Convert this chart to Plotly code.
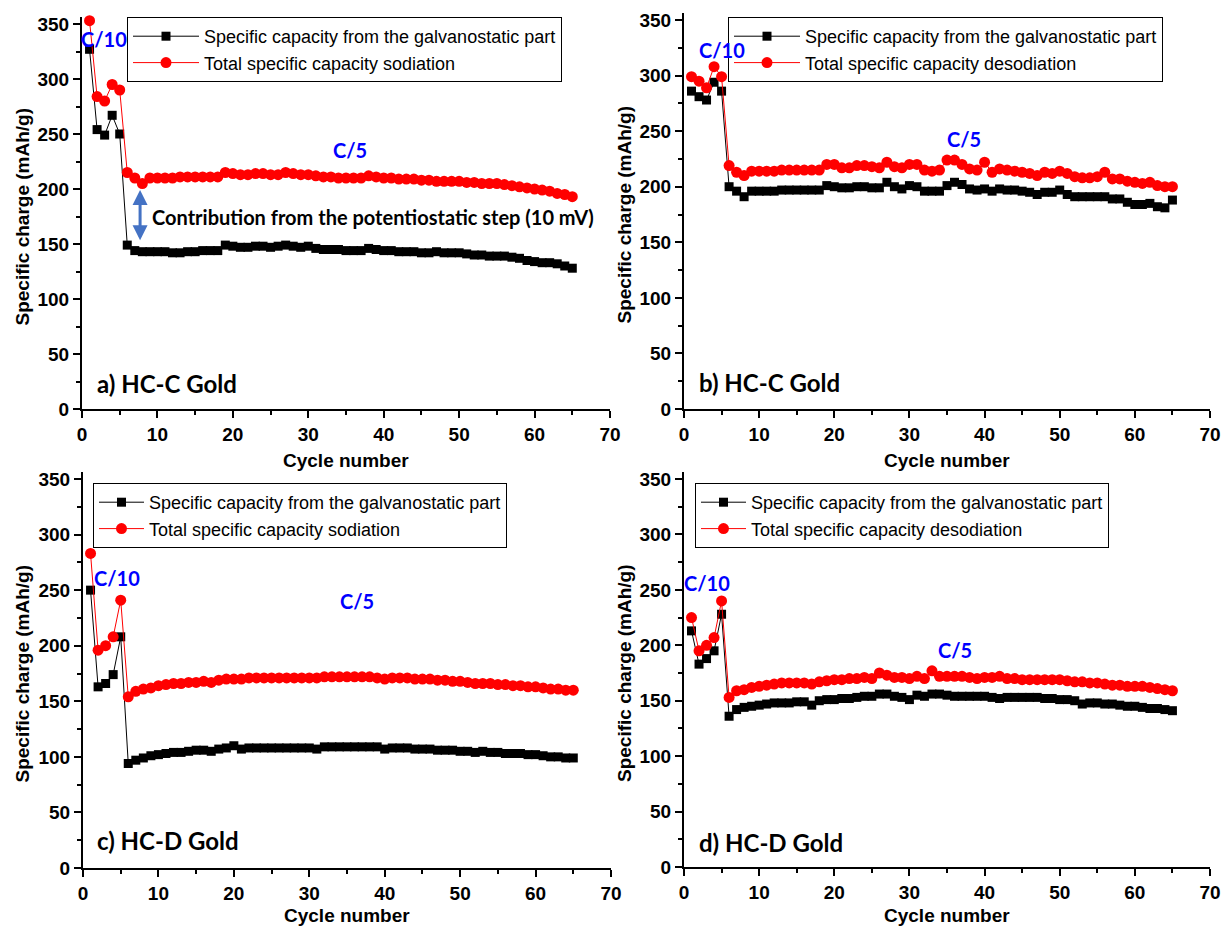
import plotly.graph_objects as go

cycles = list(range(1, 66))

# Panel a: HC-C Gold, sodiation
a_galv = [327, 254, 249, 267, 250, 149, 144, 143, 143, 143, 143, 142, 142, 143, 143, 144, 144, 144, 149, 148,
          147, 147, 148, 148, 147, 148, 149, 148, 147, 148, 146, 145, 145, 145, 144, 144, 144, 146, 145, 144,
          144, 143, 143, 143, 142, 142, 143, 142, 142, 142, 141, 140, 140, 139, 139, 139, 138, 137, 135, 134,
          133, 133, 132, 130, 128]
a_total = [353, 284, 280, 295, 290, 215, 210, 205, 210, 210, 210, 210, 211, 211, 211, 211, 211, 211, 215, 214,
           213, 213, 214, 214, 213, 213, 215, 214, 213, 213, 212, 211, 211, 210, 210, 210, 210, 212, 211, 210,
           210, 209, 209, 209, 208, 208, 207, 207, 207, 207, 206, 206, 205, 205, 205, 204, 203, 202, 201, 200,
           199, 198, 196, 195, 193]

# Panel b: HC-C Gold, desodiation
b_galv = [286, 281, 278, 294, 286, 200, 196, 191, 196, 196, 196, 196, 197, 197, 197, 197, 197, 197, 201, 200,
          199, 199, 200, 200, 199, 199, 204, 200, 198, 201, 200, 196, 196, 196, 201, 204, 202, 198, 197, 198,
          196, 198, 197, 197, 196, 195, 193, 195, 195, 197, 193, 191, 191, 191, 191, 191, 189, 189, 186, 184,
          184, 185, 182, 181, 188]
b_total = [299, 295, 289, 308, 299, 219, 213, 210, 214, 214, 214, 214, 215, 215, 215, 215, 215, 215, 220, 220,
           217, 217, 219, 219, 218, 217, 222, 218, 217, 220, 220, 215, 214, 215, 224, 224, 220, 216, 215, 222,
           213, 216, 215, 214, 213, 212, 210, 213, 212, 214, 212, 209, 208, 208, 209, 213, 207, 207, 205, 204,
           203, 204, 201, 200, 200]

# Panel c: HC-D Gold, sodiation
c_galv = [250, 163, 166, 174, 208, 94, 97, 99, 101, 102, 103, 104, 104, 105, 106, 106, 105, 107, 108, 110,
          107, 108, 108, 108, 108, 108, 108, 108, 108, 108, 107, 109, 109, 109, 109, 109, 109, 109, 109, 107,
          108, 108, 108, 107, 107, 107, 106, 106, 106, 105, 105, 104, 105, 104, 104, 103, 103, 103, 102, 102,
          101, 100, 100, 99, 99]
c_total = [283, 196, 200, 208, 241, 154, 159, 161, 162, 164, 165, 166, 166, 167, 167, 168, 167, 169, 170, 170,
           170, 171, 171, 171, 171, 171, 171, 171, 171, 171, 171, 172, 172, 172, 172, 172, 172, 172, 171, 170,
           171, 171, 171, 170, 170, 170, 169, 169, 168, 168, 167, 166, 166, 166, 165, 165, 164, 164, 163, 163,
           162, 161, 161, 160, 160]

# Panel d: HC-D Gold, desodiation
d_galv = [213, 183, 188, 195, 228, 136, 142, 144, 145, 146, 147, 148, 148, 148, 149, 149, 146, 150, 151, 151,
          152, 152, 153, 154, 154, 156, 156, 154, 153, 151, 155, 154, 156, 156, 155, 154, 154, 154, 154, 154,
          153, 152, 153, 153, 153, 153, 153, 152, 152, 151, 151, 150, 147, 148, 148, 147, 147, 146, 145, 145,
          144, 143, 143, 142, 141]
d_total = [225, 195, 200, 207, 240, 153, 159, 160, 162, 163, 164, 165, 166, 166, 166, 166, 165, 167, 168, 169,
           169, 170, 170, 171, 170, 175, 173, 171, 171, 170, 172, 170, 177, 172, 172, 172, 172, 171, 170, 171,
           171, 172, 170, 170, 169, 169, 169, 169, 169, 169, 168, 167, 167, 166, 166, 165, 164, 164, 163, 163,
           163, 162, 161, 160, 159]

galv_label = "Specific capacity from the galvanostatic part"
total_labels = ["Total specific capacity sodiation", "Total specific capacity desodiation",
                "Total specific capacity sodiation", "Total specific capacity desodiation"]
panel_labels = ["a) HC-C Gold", "b) HC-C Gold", "c) HC-D Gold", "d) HC-D Gold"]

x_range = [0, 70]
y_max_tick = 350
y_range = [0, 356]

W, H = 1226, 933
# pixel position of plot areas: (left, right, y pixel of 350, y pixel of 0)
boxes = [(82, 610, 24, 409), (684, 1210, 20, 409), (83, 611, 479, 868), (684, 1210, 479, 867)]

fig = go.Figure()
series = [(a_galv, a_total), (b_galv, b_total), (c_galv, c_total), (d_galv, d_total)]
legend_names = ["legend", "legend2", "legend3", "legend4"]

for i, (g, t) in enumerate(series):
    xa = "x" if i == 0 else f"x{i+1}"
    ya = "y" if i == 0 else f"y{i+1}"
    fig.add_trace(go.Scatter(x=cycles, y=g, mode="lines+markers", name=galv_label,
                             xaxis=xa, yaxis=ya, legend=legend_names[i], cliponaxis=False,
                             line=dict(color="black", width=1),
                             marker=dict(symbol="square", size=9, color="black")))
    fig.add_trace(go.Scatter(x=cycles, y=t, mode="lines+markers", name=total_labels[i],
                             xaxis=xa, yaxis=ya, legend=legend_names[i], cliponaxis=False,
                             line=dict(color="red", width=1),
                             marker=dict(symbol="circle", size=11, color="red")))

tickfont = dict(family="Liberation Sans, Arial", size=19, color="black", weight="bold")
layout = dict(width=W, height=H, margin=dict(l=0, r=0, t=0, b=0, pad=0, autoexpand=False),
              plot_bgcolor="white", paper_bgcolor="white", showlegend=True)

for i, (l, r, t, b) in enumerate(boxes):
    sx = "" if i == 0 else str(i + 1)
    scale = (b - t) / y_max_tick
    top = b - y_range[1] * scale
    layout["xaxis" + sx] = dict(domain=[l / W, r / W], range=x_range, anchor="y" + sx, automargin=False,
                                showgrid=False, zeroline=False, showline=True, linecolor="black", linewidth=2,
                                ticks="outside", ticklen=7, tickwidth=2, tickcolor="black", dtick=10,
                                tickfont=tickfont,
                                minor=dict(dtick=5, ticks="outside", ticklen=4, tickwidth=2, tickcolor="black"))
    layout["yaxis" + sx] = dict(domain=[1 - b / H, 1 - top / H], range=y_range, anchor="x" + sx, automargin=False,
                                showgrid=False, zeroline=False, showline=True, linecolor="black", linewidth=2,
                                ticks="outside", ticklen=7, tickwidth=2, tickcolor="black",
                                tickvals=list(range(0, 351, 50)),
                                tickfont=tickfont,
                                minor=dict(tickvals=list(range(25, 351, 50)), ticks="outside", ticklen=4,
                                           tickwidth=2, tickcolor="black"))

leg_pos = [(127, 17, 66), (728, 17, 66), (93, 483, 45), (695, 483, 45)]
for i, (lx, ly, iw) in enumerate(leg_pos):
    layout[legend_names[i]] = dict(x=lx / W, y=1 - ly / H, xanchor="left", yanchor="top",
                                   bgcolor="white", bordercolor="black", borderwidth=1,
                                   font=dict(family="Liberation Sans, Arial", size=18, color="black"),
                                   itemwidth=iw, tracegroupgap=0)

fig.update_layout(**layout)

ann = []
blue = "#0000FF"
lab_font = dict(family="Lato, Open Sans", size=24, color="black", weight="bold")
rate_font = dict(family="Lato, Open Sans", size=20, color=blue, weight="bold")
# (panel index, x, y, text)
rates = [(0, 2.9, 336, "C/10"), (0, 35.5, 235, "C/5"),
         (1, 5.0, 323, "C/10"), (1, 37.3, 243, "C/5"),
         (2, 4.5, 261, "C/10"), (2, 36.3, 240, "C/5"),
         (3, 3.1, 256, "C/10"), (3, 36.1, 196, "C/5")]
for p, x, y, txt in rates:
    s = "" if p == 0 else str(p + 1)
    ann.append(dict(x=x, y=y, xref="x" + s, yref="y" + s, text=txt, showarrow=False, font=rate_font,
                    xanchor="center", yanchor="middle"))

lab_pos = [(1.7, 23.6), (1.7, 23.6), (1.6, 25), (1.7, 22)]
for p, (x, y) in enumerate(lab_pos):
    s = "" if p == 0 else str(p + 1)
    ann.append(dict(x=x, y=y, xref="x" + s, yref="y" + s, text=panel_labels[p], showarrow=False,
                    xanchor="left", yanchor="middle", font=lab_font))

ann.append(dict(x=38.6, y=174.5, xref="x", yref="y", text="Contribution from the potentiostatic step (10 mV)",
                showarrow=False, xanchor="center", yanchor="middle",
                font=dict(family="Lato, Open Sans", size=20, color="black", weight="bold")))
# double-headed arrow
ann.append(dict(x=7.7, y=199, ax=7.7, ay=152, xref="x", yref="y", axref="x", ayref="y", text="",
                showarrow=True, arrowhead=2, startarrowhead=2, arrowside="end+start",
                arrowwidth=3, arrowsize=1, arrowcolor="#4472C4"))

title_font = dict(family="Liberation Sans, Arial", size=19, color="black", weight="bold")
for i, (l, r, t, b) in enumerate(boxes):
    xt = 22 if i % 2 == 0 else 624
    ann.append(dict(x=xt / W, y=1 - (t + b) / 2 / H, xref="paper", yref="paper", text="Specific charge (mAh/g)",
                    textangle=-90, showarrow=False, xanchor="center", yanchor="middle", font=title_font))
    yt = 460 if i < 2 else 915
    ann.append(dict(x=(l + r) / 2 / W, y=1 - yt / H, xref="paper", yref="paper", text="Cycle number",
                    showarrow=False, xanchor="center", yanchor="middle", font=title_font))

fig.update_layout(annotations=ann)
fig.write_html("out.html")
